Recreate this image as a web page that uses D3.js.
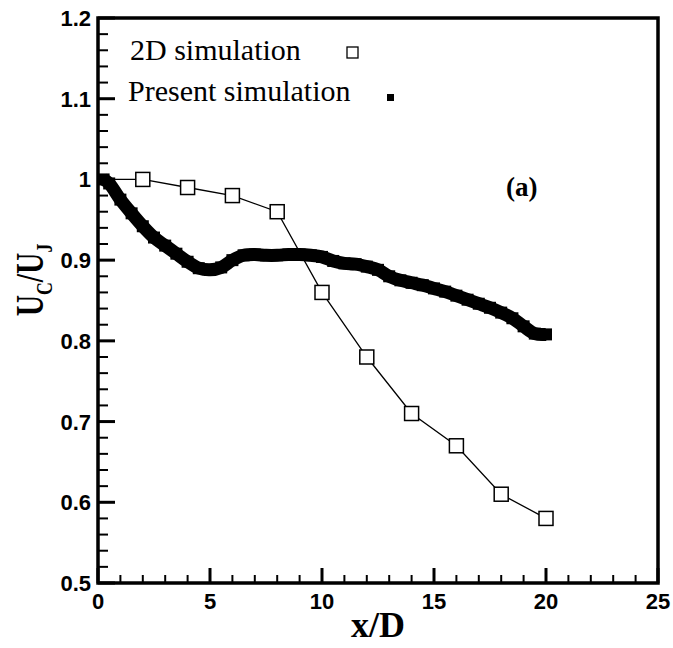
<!DOCTYPE html>
<html lang="en">
<head>
	<meta charset="UTF-8">
	<title>Centreline velocity</title>
	<style>
		body { margin: 0; background: #fff; }
		svg { display: block; }
	</style>
</head>
<body>
	<svg width="673" height="648"></svg>
	<script src="https://cdn.jsdelivr.net/npm/d3@7"></script>
	<script>
		// 2D simulation (open squares)
		var xs2d = [0, 2, 4, 6, 8, 10, 12, 14, 16, 18, 20];
		var uc2d = [1.0, 1.0, 0.99, 0.98, 0.96, 0.86, 0.78, 0.71, 0.67, 0.61, 0.58];

		// present simulation (dense filled squares)
		var xsPres = [0.25, 0.5, 1, 1.5, 2, 2.5, 3, 3.5, 4, 4.5, 5, 5.5, 6, 6.5, 7, 7.5, 8, 8.5, 9, 9.5,
			10, 10.5, 11, 11.5, 12, 12.5, 13, 13.5, 14, 14.5, 15, 15.5, 16, 16.5, 17, 17.5, 18, 18.5, 19, 19.5, 20];
		var ucPres = [1.0, 0.995, 0.975, 0.958, 0.942, 0.928, 0.918, 0.908, 0.898, 0.890, 0.888, 0.891, 0.900, 0.906, 0.907, 0.906, 0.906, 0.907, 0.907, 0.906,
			0.904, 0.899, 0.896, 0.895, 0.892, 0.888, 0.880, 0.875, 0.872, 0.869, 0.865, 0.861, 0.856, 0.851, 0.846, 0.841, 0.835, 0.828, 0.818, 0.809, 0.808];

		var xTicks = [0, 5, 10, 15, 20, 25];
		var yTicks = [0.5, 0.6, 0.7, 0.8, 0.9, 1.0, 1.1, 1.2];
		var legendLabels = ["2D simulation", "Present simulation"];

		var svg = d3.select("svg");
		var pL = 98, pR = 658, pT = 18, pB = 583;
		var sans = "'Liberation Sans', Arial, sans-serif";
		var serif = "'Liberation Serif', 'Times New Roman', serif";

		var x = d3.scaleLinear().domain([0, 25]).range([pL, pR]);
		var y = d3.scaleLinear().domain([0.5, 1.2]).range([pB, pT]);

		// ticks (inward, left and bottom only)
		var xMinor = d3.range(0, 26, 1);
		var yMinor = d3.range(0, 36).map(function(i) { return +(0.5 + i * 0.02).toFixed(2); });
		var ticks = svg.append("g").attr("stroke", "#000");
		ticks.selectAll("line.xm").data(xMinor).enter().append("line")
			.attr("x1", function(d) { return x(d); }).attr("x2", function(d) { return x(d); })
			.attr("y1", pB).attr("y2", function(d) { return d % 5 === 0 ? pB - 15 : pB - 8; })
			.attr("stroke-width", function(d) { return d % 5 === 0 ? 3 : 2; });
		ticks.selectAll("line.ym").data(yMinor).enter().append("line")
			.attr("y1", function(d) { return y(d); }).attr("y2", function(d) { return y(d); })
			.attr("x1", pL).attr("x2", function(d, i) { return i % 5 === 0 ? pL + 17 : pL + 10; })
			.attr("stroke-width", function(d, i) { return i % 5 === 0 ? 3 : 2; });

		// tick labels
		svg.append("g").selectAll("text").data(xTicks).enter().append("text")
			.attr("x", function(d) { return x(d); }).attr("y", 609)
			.attr("text-anchor", "middle").style("font", "bold 22px " + sans).attr("fill", "#000")
			.text(function(d) { return d; });
		svg.append("g").selectAll("text").data(yTicks).enter().append("text")
			.attr("x", pL - 7).attr("y", function(d) { return y(d) + 8; })
			.attr("text-anchor", "end").style("font", "bold 22px " + sans).attr("fill", "#000")
			.text(function(d) { return String(+d.toFixed(1)); });

		// frame
		svg.append("rect")
			.attr("x", pL).attr("y", pT)
			.attr("width", pR - pL).attr("height", pB - pT)
			.attr("fill", "none").attr("stroke", "#000").attr("stroke-width", 3.5);

		// present simulation
		var pres = xsPres.map(function(d, i) { return [d, ucPres[i]]; });
		svg.append("path")
			.datum(pres)
			.attr("d", d3.line().x(function(d) { return x(d[0]); }).y(function(d) { return y(d[1]); }).curve(d3.curveCatmullRom))
			.attr("fill", "none").attr("stroke", "#000").attr("stroke-width", 13).attr("stroke-linejoin", "round");
		svg.selectAll("rect.pres").data(pres).enter().append("rect")
			.attr("class", "pres")
			.attr("x", function(d) { return x(d[0]) - 6; })
			.attr("y", function(d) { return y(d[1]) - 6; })
			.attr("width", 12).attr("height", 12).attr("fill", "#000");

		// 2D simulation
		var sim2d = xs2d.map(function(d, i) { return [d, uc2d[i]]; });
		svg.append("path")
			.datum(sim2d)
			.attr("d", d3.line().x(function(d) { return x(d[0]); }).y(function(d) { return y(d[1]); }))
			.attr("fill", "none").attr("stroke", "#000").attr("stroke-width", 1.3);
		svg.selectAll("rect.sq").data(sim2d.slice(1)).enter().append("rect")
			.attr("class", "sq")
			.attr("x", function(d) { return x(d[0]) - 7; })
			.attr("y", function(d) { return y(d[1]) - 7; })
			.attr("width", 14).attr("height", 14)
			.attr("fill", "#fff").attr("stroke", "#000").attr("stroke-width", 1.5);

		// legend
		svg.append("text").attr("x", 130).attr("y", 60).text(legendLabels[0])
			.style("font", "30px " + serif).attr("fill", "#000");
		svg.append("rect").attr("x", 347).attr("y", 47).attr("width", 11).attr("height", 11)
			.attr("fill", "#fff").attr("stroke", "#000").attr("stroke-width", 1.3);
		svg.append("text").attr("x", 128).attr("y", 101).text(legendLabels[1])
			.style("font", "30px " + serif).attr("fill", "#000");
		svg.append("rect").attr("x", 387).attr("y", 94).attr("width", 7).attr("height", 7).attr("fill", "#000");

		svg.append("text").attr("x", 506).attr("y", 196).text("(a)")
			.style("font", "bold 27px " + serif).attr("fill", "#000");

		// axis titles
		svg.append("text").attr("x", (pL + pR) / 2).attr("y", 637).attr("text-anchor", "middle")
			.style("font", "bold 36px " + serif).attr("fill", "#000").text("x/D");
		var yt = svg.append("text").attr("transform", "translate(43,280) rotate(-90) scale(0.74,1)")
			.attr("text-anchor", "middle").style("font", "bold 40px " + serif).attr("fill", "#000");
		yt.append("tspan").text("U");
		yt.append("tspan").attr("dy", 9).style("font-size", "24px").text("C");
		yt.append("tspan").attr("dy", -9).text("/U");
		yt.append("tspan").attr("dy", 9).style("font-size", "24px").text("J");
	</script>
</body>
</html>
